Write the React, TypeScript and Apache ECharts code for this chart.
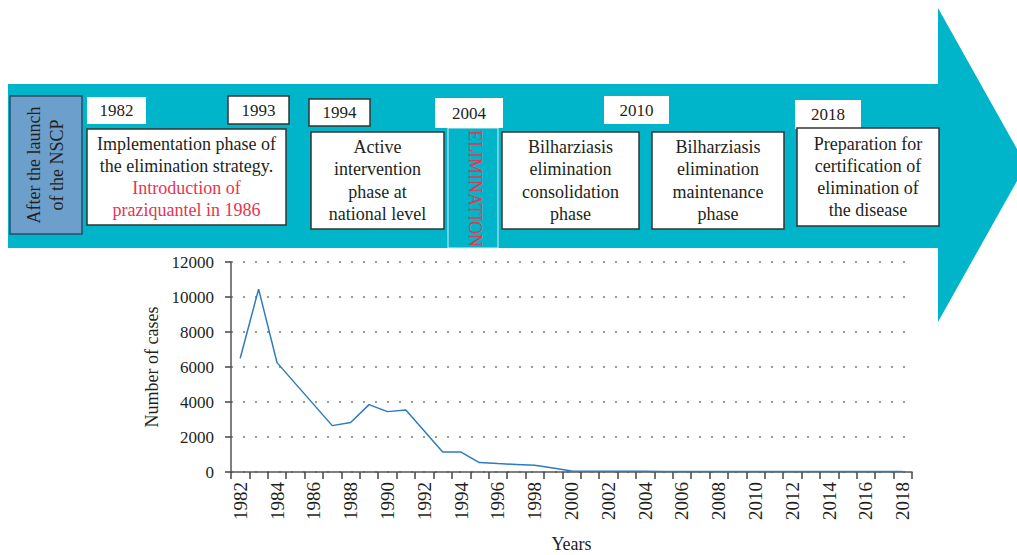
import React, { useEffect, useRef } from "react";
import * as echarts from "echarts";

// ---- Data ----
const years = [
  "1982", "1983", "1984", "1985", "1986", "1987", "1988", "1989", "1990", "1991",
  "1992", "1993", "1994", "1995", "1996", "1997", "1998", "1999", "2000", "2001",
  "2002", "2003", "2004", "2005", "2006", "2007", "2008", "2009", "2010", "2011",
  "2012", "2013", "2014", "2015", "2016", "2017", "2018",
];
const cases = [
  6500, 10450, 6250, 5050, 3850, 2650, 2830, 3850, 3450, 3540,
  2340, 1140, 1140, 540, 480, 430, 380, 230, 60, 45,
  40, 40, 40, 35, 35, 35, 35, 30, 30, 30,
  30, 30, 30, 30, 30, 30, 30,
];
const yTicks = [0, 2000, 4000, 6000, 8000, 10000, 12000];

const phaseYears = ["1982", "1993", "1994", "2004", "2010", "2018"];
const launchText = ["After the launch", "of the NSCP"];
const eliminationText = "ELIMINATION";
const phaseTexts: { text: string; red?: boolean }[][] = [
  [
    { text: "Implementation phase of" },
    { text: "the elimination strategy." },
    { text: "Introduction of", red: true },
    { text: "praziquantel in 1986", red: true },
  ],
  [{ text: "Active" }, { text: "intervention" }, { text: "phase at" }, { text: "national level" }],
  [{ text: "Bilharziasis" }, { text: "elimination" }, { text: "consolidation" }, { text: "phase" }],
  [{ text: "Bilharziasis" }, { text: "elimination" }, { text: "maintenance" }, { text: "phase" }],
  [{ text: "Preparation for" }, { text: "certification of" }, { text: "elimination of" }, { text: "the disease" }],
];

// ---- Layout (positions / styles) ----
const FONT = "'Liberation Serif', 'DejaVu Serif', serif";
const TEAL = "#00b5c9";
const RED = "#e5354f";
const DARK = "#231f20";

const yearBoxLayout = [
  { x: 87, y: 97, w: 59, h: 27, border: false },
  { x: 228, y: 96, w: 61, h: 28, border: true },
  { x: 309, y: 99, w: 61, h: 27, border: true },
  { x: 435, y: 98, w: 68, h: 30, border: false },
  { x: 604, y: 96, w: 65, h: 28, border: false },
  { x: 795, y: 100, w: 66, h: 29, border: false },
];
const phaseBoxLayout = [
  { x: 87, y: 129, w: 199, h: 96 },
  { x: 311, y: 132, w: 133, h: 97 },
  { x: 502, y: 132, w: 137, h: 97 },
  { x: 652, y: 132, w: 132, h: 97 },
  { x: 797, y: 128, w: 142, h: 98 },
];

function buildGraphics(): any[] {
  const els: any[] = [];
  // Arrow
  els.push({
    type: "polygon",
    z: -10,
    shape: {
      points: [
        [8, 84], [938, 84], [938, 8], [1026, 165], [938, 322], [938, 248], [8, 248],
      ],
    },
    style: { fill: TEAL },
  });
  // Launch box
  els.push({
    type: "rect",
    shape: { x: 10, y: 96, width: 72, height: 138 },
    style: { fill: "#6d9fcc", stroke: "#2d4a66", lineWidth: 1.5 },
  });
  els.push({
    type: "text",
    x: 45.5,
    y: 165,
    rotation: Math.PI / 2,
    style: {
      text: launchText.join("\n"),
      fontFamily: FONT,
      fontSize: 18,
      lineHeight: 23,
      fill: DARK,
      align: "center",
      verticalAlign: "middle",
    },
  });
  // Elimination column
  els.push({
    type: "rect",
    shape: { x: 448, y: 128, width: 50, height: 120 },
    style: { fill: TEAL, stroke: "#d4f0f4", lineWidth: 1 },
  });
  els.push({
    type: "text",
    x: 474.5,
    y: 130,
    rotation: -Math.PI / 2,
    style: {
      text: eliminationText,
      fontFamily: FONT,
      fontSize: 18,
      fill: RED,
      align: "left",
      verticalAlign: "middle",
    },
  });
  // Year boxes
  phaseYears.forEach((yr, i) => {
    const b = yearBoxLayout[i];
    els.push({
      type: "rect",
      shape: { x: b.x, y: b.y, width: b.w, height: b.h },
      style: { fill: "#ffffff", stroke: b.border ? "#333333" : null, lineWidth: b.border ? 1.5 : 0 },
    });
    els.push({
      type: "text",
      x: b.x + b.w / 2,
      y: b.y + b.h / 2,
      style: {
        text: yr,
        fontFamily: FONT,
        fontSize: 17,
        fill: DARK,
        align: "center",
        verticalAlign: "middle",
      },
    });
  });
  // Phase boxes
  phaseTexts.forEach((lines, i) => {
    const b = phaseBoxLayout[i];
    els.push({
      type: "rect",
      shape: { x: b.x, y: b.y, width: b.w, height: b.h },
      style: { fill: "#ffffff", stroke: "#333333", lineWidth: 1.5 },
    });
    const lh = 22.3;
    const cy = b.y + b.h / 2;
    lines.forEach((ln, j) => {
      els.push({
        type: "text",
        x: b.x + b.w / 2,
        y: cy + (j - (lines.length - 1) / 2) * lh,
        style: {
          text: ln.text,
          fontFamily: FONT,
          fontSize: 18,
          fill: ln.red ? RED : DARK,
          align: "center",
          verticalAlign: "middle",
        },
      });
    });
  });
  return els;
}

export default function App() {
  const ref = useRef<HTMLDivElement>(null);
  useEffect(() => {
    document.body.style.margin = "0";
    if (!ref.current) return;
    const chart = echarts.init(ref.current, null, { renderer: "svg" });
    chart.setOption({
      animation: false,
      backgroundColor: "#ffffff",
      textStyle: { fontFamily: FONT },
      grid: { left: 231, right: 105, top: 262, bottom: 83, containLabel: false, outerBoundsMode: "none" },
      xAxis: {
        type: "category",
        data: years,
        boundaryGap: true,
        name: "Years",
        nameLocation: "middle",
        nameGap: 63,
        nameTextStyle: { fontFamily: FONT, fontSize: 18, color: DARK },
        axisLine: { show: true, lineStyle: { color: "#555555", width: 1.5 } },
        axisTick: { show: true, interval: 0, length: 7, lineStyle: { color: "#444444", width: 1.5 } },
        axisLabel: {
          interval: 1,
          rotate: 90,
          margin: 10,
          fontFamily: FONT,
          fontSize: 19,
          color: DARK,
        },
        splitLine: { show: false },
      },
      yAxis: {
        type: "value",
        min: yTicks[0],
        max: yTicks[yTicks.length - 1],
        interval: yTicks[1] - yTicks[0],
        name: "Number of cases",
        nameLocation: "middle",
        nameGap: 66,
        nameTextStyle: { fontFamily: FONT, fontSize: 18, color: DARK },
        axisLine: { show: true, lineStyle: { color: "#555555", width: 1.5 } },
        axisTick: { show: true, length: 6, lineStyle: { color: "#444444", width: 1.5 } },
        axisLabel: {
          margin: 17,
          fontFamily: FONT,
          fontSize: 17,
          color: DARK,
          formatter: (v: number) => String(v),
        },
        splitLine: {
          show: true,
          lineStyle: { color: "#9a9a9a", width: 2, type: [2, 10] },
        },
      },
      series: [
        {
          type: "line",
          data: cases,
          showSymbol: false,
          symbol: "none",
          lineStyle: { color: "#2b7bbf", width: 1.5 },
          itemStyle: { color: "#2b7bbf" },
        },
      ],
      graphic: buildGraphics(),
    });
    return () => chart.dispose();
  }, []);
  return <div ref={ref} style={{ width: 1017, height: 555 }} />;
}
